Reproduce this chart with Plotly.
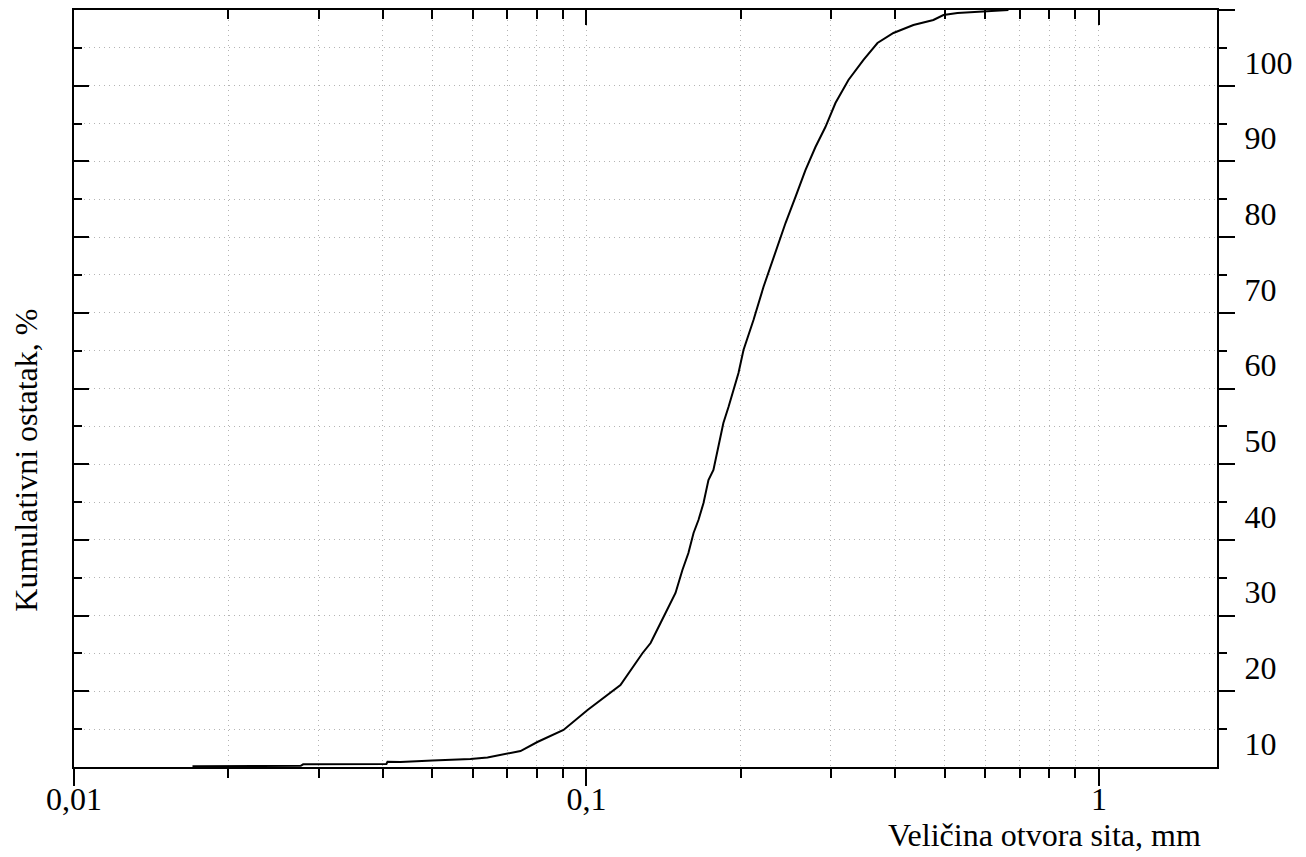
import plotly.graph_objects as go

# Curve data: sieve opening (mm) vs cumulative residue (%)
size_mm = [0.01703, 0.0277, 0.028, 0.0407, 0.0409, 0.04336, 0.05007, 0.05937, 0.0641,
           0.0702, 0.07435, 0.0802, 0.0902, 0.1005, 0.1165, 0.1287, 0.1334, 0.1395,
           0.1445, 0.1492, 0.1539, 0.1581, 0.1618, 0.1654, 0.1692, 0.173, 0.1769,
           0.1809, 0.185, 0.1893, 0.1936, 0.198, 0.2025, 0.2118, 0.2215, 0.2286,
           0.2359, 0.2446, 0.2558, 0.2675, 0.2798, 0.2926, 0.3061, 0.3245, 0.3472,
           0.3697, 0.3972, 0.4345, 0.4753, 0.4973, 0.5296, 0.5793, 0.6659]
residue_pct = [0.1, 0.15, 0.35, 0.4, 0.7, 0.66, 0.86, 1.06, 1.25,
               1.72, 2.11, 3.3, 4.89, 7.53, 10.83, 15.06, 16.38, 19.02,
               21.14, 22.99, 26.02, 28.27, 30.91, 32.63, 34.87, 37.91, 39.23,
               42.27, 45.44, 47.56, 49.8, 52.05, 55.09, 59.05, 63.41, 66.05,
               68.69, 71.86, 75.3, 78.86, 81.9, 84.54, 87.71, 90.75, 93.4,
               95.64, 96.96, 98.02, 98.68, 99.34, 99.6, 99.74, 100.0]

x_major = [0.01, 0.1, 1]
x_major_text = ["0,01", "0,1", "1"]
x_minor = [0.02, 0.03, 0.04, 0.05, 0.06, 0.07, 0.08, 0.09,
           0.2, 0.3, 0.4, 0.5, 0.6, 0.7, 0.8, 0.9]
y_major = [10, 20, 30, 40, 50, 60, 70, 80, 90, 100]
y_minor = [5, 15, 25, 35, 45, 55, 65, 75, 85, 95]
y_labels = [10, 20, 30, 40, 50, 60, 70, 80, 90, 100]
y_label_range = [6.89, 106.93]

FONT = "Liberation Serif"
FS = 32
GRID = "#b4b4b4"
GDASH = "1px,4px"
XR = [-2, 0.2304]

fig = go.Figure()
fig.add_trace(go.Scatter(x=size_mm, y=residue_pct, mode="lines",
                         line=dict(color="black", width=2), xaxis="x", yaxis="y",
                         showlegend=False, hoverinfo="skip"))
fig.add_trace(go.Scatter(x=[], y=[], xaxis="x2", yaxis="y2", showlegend=False))
fig.add_trace(go.Scatter(x=[], y=[], xaxis="x3", yaxis="y3", showlegend=False))

fig.update_layout(
    width=1306, height=857,
    margin=dict(l=74, r=89, t=10, b=90),
    paper_bgcolor="white", plot_bgcolor="white",
    font=dict(family=FONT, size=FS, color="black"),
    hovermode=False,
    # bottom axis: labels + grid
    xaxis=dict(type="log", range=XR, showline=True, linecolor="black", linewidth=2,
               ticks="outside", ticklen=3, tickwidth=1, tickcolor="rgba(0,0,0,0)",
               tickvals=x_major, ticktext=x_major_text,
               tickfont=dict(family=FONT, size=FS, color="black"),
               showgrid=True, gridcolor=GRID, griddash=GDASH, gridwidth=1,
               zeroline=False,
               minor=dict(tickvals=x_minor, ticks="", showgrid=True, gridcolor=GRID,
                          griddash=GDASH, gridwidth=1)),
    # top axis: inward ticks
    xaxis2=dict(type="log", range=XR, overlaying="x", side="top", anchor="y",
                showline=True, linecolor="black", linewidth=2,
                ticks="inside", ticklen=15, tickwidth=2, tickcolor="black",
                tickvals=x_major, showticklabels=False, showgrid=False, zeroline=False,
                minor=dict(tickvals=x_minor, ticks="inside", ticklen=9, tickwidth=2,
                           tickcolor="black", showgrid=False)),
    # bottom axis: outward tick marks
    xaxis3=dict(type="log", range=XR, overlaying="x", side="bottom", anchor="y",
                showline=False, ticks="outside", ticklen=18, tickwidth=2, tickcolor="black",
                tickvals=x_major, showticklabels=False, showgrid=False, zeroline=False,
                minor=dict(tickvals=x_minor, ticks="outside", ticklen=10, tickwidth=2,
                           tickcolor="black", showgrid=False)),
    yaxis=dict(range=[0, 100], side="left", showline=True, linecolor="black", linewidth=2,
               ticks="inside", ticklen=15, tickwidth=2, tickcolor="black",
               tickvals=y_major, showticklabels=False,
               showgrid=True, gridcolor=GRID, griddash=GDASH, gridwidth=1,
               zeroline=False,
               minor=dict(tickvals=y_minor, ticks="inside", ticklen=8, tickwidth=2,
                          tickcolor="black", showgrid=True, gridcolor=GRID,
                          griddash=GDASH, gridwidth=1)),
    yaxis2=dict(range=[0, 100], overlaying="y", side="right", anchor="x",
                showline=True, linecolor="black", linewidth=2,
                ticks="outside", ticklen=16, tickwidth=2, tickcolor="black",
                tickvals=y_major, showticklabels=False, showgrid=False, zeroline=False,
                minor=dict(tickvals=y_minor, ticks="outside", ticklen=8, tickwidth=2,
                           tickcolor="black", showgrid=False)),
    yaxis3=dict(range=y_label_range, overlaying="y", side="right", anchor="x",
                showline=False, ticks="outside", ticklen=20, tickcolor="rgba(0,0,0,0)",
                tickvals=y_labels, ticktext=[str(v) for v in y_labels],
                tickfont=dict(family=FONT, size=FS, color="black"),
                showgrid=False, zeroline=False),
    annotations=[
        dict(text="Veličina otvora sita, mm", xref="paper", yref="paper",
             x=0.9878, y=-0.0898, xanchor="right", yanchor="middle", showarrow=False,
             font=dict(family=FONT, size=FS, color="black")),
        dict(text="Kumulativni ostatak, %", xref="paper", yref="paper",
             x=-0.042, y=0.406, xanchor="center", yanchor="middle", textangle=-90,
             showarrow=False, font=dict(family=FONT, size=FS, color="black")),
    ],
)

fig.write_html("out.html", config={"displayModeBar": False},
               post_script="document.body.style.margin='0px';")
